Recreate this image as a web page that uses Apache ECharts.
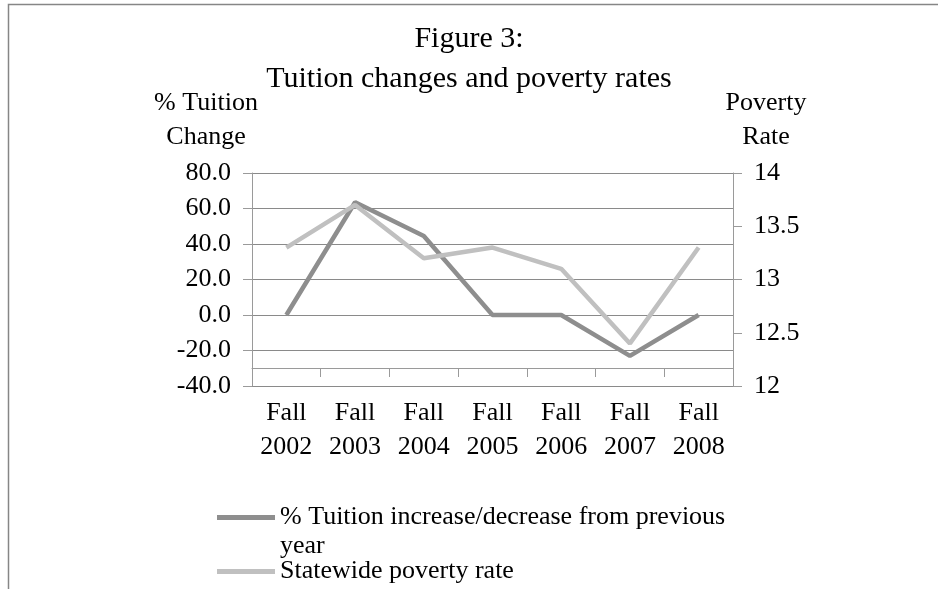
<!DOCTYPE html>
<html>
<head>
<meta charset="utf-8">
<script src="https://cdn.jsdelivr.net/npm/echarts@6/dist/echarts.min.js"></script>
<style>
  html, body { margin: 0; padding: 0; background: #fff; }
  #chart { width: 938px; height: 589px; }
</style>
</head>
<body>
<div id="chart"></div>
<script>
const chart = echarts.init(document.getElementById('chart'))

// data
const categories = ['Fall 2002', 'Fall 2003', 'Fall 2004', 'Fall 2005', 'Fall 2006', 'Fall 2007', 'Fall 2008']
const tuitionChange = [0, 63.5, 44.5, 0, 0, -23, 0]
const povertyRate = [13.3, 13.7, 13.2, 13.3, 13.1, 12.4, 13.3]
const tuitionName = '% Tuition increase/decrease from previous\nyear'
const povertyName = 'Statewide poverty rate'

const font = 'Liberation Serif'
const axisGray = '#9a9a9a'
const gridGray = '#8a8a8a'

let legendText = {
  fontFamily: font,
  fontSize: 26,
  lineHeight: 29,
  color: '#000'
}

let option = {
  animation: false,
  backgroundColor: '#fff',
  title: {
    text: 'Figure 3:\nTuition changes and poverty rates',
    left: 'center',
    top: 19,
    padding: 0,
    textStyle: {
      fontFamily: font,
      fontWeight: 'normal',
      fontSize: 30,
      lineHeight: 40,
      color: '#000'
    }
  },
  grid: {
    left: 252,
    right: 205,
    top: 173,
    bottom: 203
  },
  legend: [
    {
      data: [tuitionName],
      left: 217,
      top: 474,
      padding: 0,
      icon: 'rect',
      itemWidth: 58,
      itemHeight: 5,
      selectedMode: false,
      // empty first line keeps the icon level with the first text line
      formatter: (name) => '\n' + name,
      textStyle: legendText
    },
    {
      data: [povertyName],
      left: 217,
      top: 557,
      padding: 0,
      icon: 'rect',
      itemWidth: 58,
      itemHeight: 5,
      selectedMode: false,
      textStyle: legendText
    }
  ],
  xAxis: {
    type: 'category',
    data: categories,
    boundaryGap: true,
    offset: -18,
    axisLine: { onZero: false, lineStyle: { color: axisGray, width: 1 } },
    axisTick: { show: true, length: 9, lineStyle: { color: axisGray } },
    axisLabel: {
      interval: 0,
      margin: 28,
      fontFamily: font,
      fontSize: 26,
      lineHeight: 34,
      color: '#000',
      formatter: (v) => v.replace(' ', '\n')
    },
    splitLine: { show: false }
  },
  yAxis: [
    {
      type: 'value',
      min: -40,
      max: 80,
      interval: 20,
      axisLine: { show: true, lineStyle: { color: axisGray } },
      axisTick: { show: true, length: 9, lineStyle: { color: axisGray } },
      axisLabel: {
        margin: 21,
        fontFamily: font,
        fontSize: 26,
        color: '#000',
        formatter: (v) => v.toFixed(1)
      },
      splitLine: { show: true, lineStyle: { color: gridGray, width: 1 } }
    },
    {
      type: 'value',
      position: 'right',
      min: 12,
      max: 14,
      interval: 0.5,
      axisLine: { show: true, lineStyle: { color: axisGray } },
      axisTick: { show: true, length: 9, lineStyle: { color: axisGray } },
      axisLabel: {
        margin: 21,
        fontFamily: font,
        fontSize: 26,
        color: '#000'
      },
      splitLine: { show: false }
    }
  ],
  graphic: [
    {
      type: 'rect',
      silent: true,
      shape: { x: 8.5, y: 4.5, width: 1000, height: 700 },
      style: { fill: 'none', stroke: '#868686', lineWidth: 1.5 }
    },
    {
      type: 'text',
      x: 206,
      y: 120,
      style: {
        text: '% Tuition\nChange',
        font: '26px "Liberation Serif"',
        lineHeight: 34,
        fill: '#000',
        align: 'center',
        verticalAlign: 'middle'
      }
    },
    {
      type: 'text',
      x: 766,
      y: 120,
      style: {
        text: 'Poverty\nRate',
        font: '26px "Liberation Serif"',
        lineHeight: 34,
        fill: '#000',
        align: 'center',
        verticalAlign: 'middle'
      }
    }
  ],
  series: [
    {
      name: tuitionName,
      type: 'line',
      yAxisIndex: 0,
      data: tuitionChange,
      symbol: 'none',
      color: '#8e8e8e',
      lineStyle: { color: '#8e8e8e', width: 4.5 },
      emphasis: { disabled: true }
    },
    {
      name: povertyName,
      type: 'line',
      yAxisIndex: 1,
      data: povertyRate,
      symbol: 'none',
      color: '#c0c0c0',
      lineStyle: { color: '#c0c0c0', width: 4.5 },
      emphasis: { disabled: true }
    }
  ]
}
chart.setOption(option)
</script>
</body>
</html>
